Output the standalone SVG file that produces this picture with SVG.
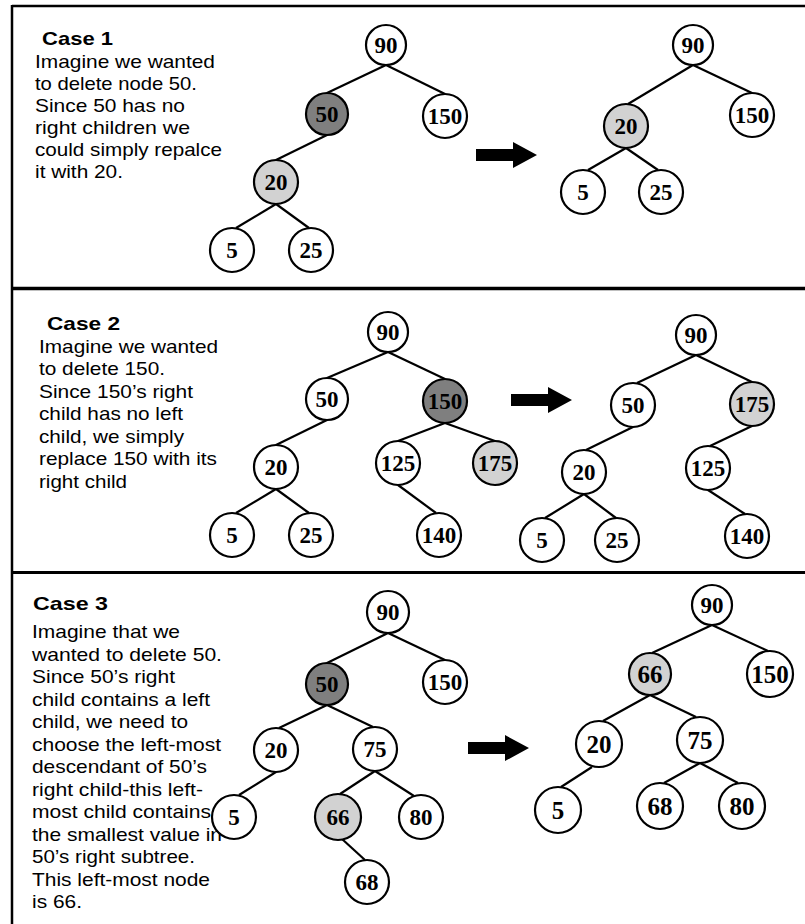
<svg xmlns="http://www.w3.org/2000/svg" width="805" height="924" viewBox="0 0 805 924">
<style>
.frame{stroke:#000;fill:none}
.edge{stroke:#000;stroke-width:2.2;fill:none}
.n circle{fill:#fff;stroke:#000;stroke-width:2.2}
.n.dark circle{fill:#7f7f7f}
.n.light circle{fill:#d2d2d2}
.n text{font-family:"Liberation Serif","Times New Roman",serif;font-weight:bold;font-size:23px;text-anchor:middle;fill:#000}
.big text{font-size:25px}
.h{font-family:"Liberation Sans",Arial,sans-serif;font-weight:bold;font-size:19px;fill:#000}
.b{font-family:"Liberation Sans",Arial,sans-serif;font-size:18.5px;fill:#000}
</style>
<defs>
<path id="arrow" d="M0,-6 H37 V-13 L61,0 L37,13 V6 H0 Z" fill="#000"/>
</defs>
<rect width="805" height="924" fill="#fff"/>
<g id="frame" class="frame">
<line x1="12" y1="6" x2="805" y2="6" stroke-width="2.5"/>
<line x1="12" y1="5" x2="12" y2="924" stroke-width="2.5"/>
<line x1="12" y1="288.5" x2="805" y2="288.5" stroke-width="3.5"/>
<line x1="12" y1="572.5" x2="805" y2="572.5" stroke-width="3"/>
</g>
<g id="texts">
<text class="h" x="42" y="45" textLength="71" lengthAdjust="spacingAndGlyphs">Case 1</text>
<text class="b" x="35" y="68" textLength="180" lengthAdjust="spacingAndGlyphs">Imagine we wanted</text>
<text class="b" x="35" y="90" textLength="162" lengthAdjust="spacingAndGlyphs">to delete node 50.</text>
<text class="b" x="35" y="112" textLength="150" lengthAdjust="spacingAndGlyphs">Since 50 has no</text>
<text class="b" x="35" y="134" textLength="155" lengthAdjust="spacingAndGlyphs">right children we</text>
<text class="b" x="35" y="156" textLength="187" lengthAdjust="spacingAndGlyphs">could simply repalce</text>
<text class="b" x="35" y="178" textLength="88" lengthAdjust="spacingAndGlyphs">it with 20.</text>

<text class="h" x="47" y="330" textLength="73" lengthAdjust="spacingAndGlyphs">Case 2</text>
<text class="b" x="39" y="353" textLength="179" lengthAdjust="spacingAndGlyphs">Imagine we wanted</text>
<text class="b" x="39" y="375" textLength="126" lengthAdjust="spacingAndGlyphs">to delete 150.</text>
<text class="b" x="39" y="398" textLength="154" lengthAdjust="spacingAndGlyphs">Since 150’s right</text>
<text class="b" x="39" y="420" textLength="144" lengthAdjust="spacingAndGlyphs">child has no left</text>
<text class="b" x="39" y="443" textLength="145" lengthAdjust="spacingAndGlyphs">child, we simply</text>
<text class="b" x="39" y="465" textLength="178" lengthAdjust="spacingAndGlyphs">replace 150 with its</text>
<text class="b" x="39" y="488" textLength="88" lengthAdjust="spacingAndGlyphs">right child</text>

<text class="h" x="33" y="610" textLength="75" lengthAdjust="spacingAndGlyphs">Case 3</text>
<text class="b" x="32" y="638" textLength="148" lengthAdjust="spacingAndGlyphs">Imagine that we</text>
<text class="b" x="32" y="660.5" textLength="190" lengthAdjust="spacingAndGlyphs">wanted to delete 50.</text>
<text class="b" x="32" y="683" textLength="143" lengthAdjust="spacingAndGlyphs">Since 50’s right</text>
<text class="b" x="32" y="705.5" textLength="178" lengthAdjust="spacingAndGlyphs">child contains a left</text>
<text class="b" x="32" y="728" textLength="156" lengthAdjust="spacingAndGlyphs">child, we need to</text>
<text class="b" x="32" y="750.5" textLength="189" lengthAdjust="spacingAndGlyphs">choose the left-most</text>
<text class="b" x="32" y="773" textLength="175" lengthAdjust="spacingAndGlyphs">descendant of 50’s</text>
<text class="b" x="32" y="795.5" textLength="171" lengthAdjust="spacingAndGlyphs">right child-this left-</text>
<text class="b" x="32" y="818" textLength="179" lengthAdjust="spacingAndGlyphs">most child contains</text>
<text class="b" x="32" y="840.5" textLength="190" lengthAdjust="spacingAndGlyphs">the smallest value in</text>
<text class="b" x="32" y="863" textLength="163" lengthAdjust="spacingAndGlyphs">50’s right subtree.</text>
<text class="b" x="32" y="885.5" textLength="178" lengthAdjust="spacingAndGlyphs">This left-most node</text>
<text class="b" x="32" y="908" textLength="50" lengthAdjust="spacingAndGlyphs">is 66.</text>
</g>
<g id="arrows">
<use href="#arrow" x="476" y="155"/>
<use href="#arrow" x="511" y="400"/>
<use href="#arrow" x="468" y="748"/>
</g>
<g id="connectors" class="edge">
<line x1="386" y1="65" x2="327" y2="93"/>
<line x1="386" y1="65" x2="445" y2="94"/>
<line x1="327" y1="135" x2="276" y2="160"/>
<line x1="276" y1="204" x2="236" y2="228"/>
<line x1="276" y1="204" x2="309" y2="228"/>
<line x1="693" y1="65" x2="628" y2="104"/>
<line x1="693" y1="65" x2="752" y2="93"/>
<line x1="626" y1="148" x2="588" y2="170"/>
<line x1="626" y1="148" x2="658" y2="170"/>
<line x1="388" y1="352" x2="327" y2="378"/>
<line x1="388" y1="352" x2="445" y2="379"/>
<line x1="327" y1="420" x2="276" y2="445"/>
<line x1="445" y1="423" x2="398" y2="441"/>
<line x1="445" y1="423" x2="495" y2="441"/>
<line x1="276" y1="489" x2="236" y2="513"/>
<line x1="276" y1="489" x2="309" y2="513"/>
<line x1="398" y1="485" x2="436" y2="513"/>
<line x1="696" y1="355" x2="637" y2="383"/>
<line x1="696" y1="355" x2="752" y2="382"/>
<line x1="633" y1="427" x2="586" y2="450"/>
<line x1="752" y1="426" x2="710" y2="446"/>
<line x1="584" y1="494" x2="545" y2="518"/>
<line x1="584" y1="494" x2="616" y2="518"/>
<line x1="708" y1="490" x2="745" y2="514"/>
<line x1="388" y1="633" x2="327" y2="663"/>
<line x1="388" y1="633" x2="445" y2="660"/>
<line x1="327" y1="705" x2="279" y2="728"/>
<line x1="327" y1="705" x2="373" y2="727"/>
<line x1="276" y1="772" x2="239" y2="795"/>
<line x1="375" y1="771" x2="340" y2="794"/>
<line x1="375" y1="771" x2="414" y2="796"/>
<line x1="342" y1="839" x2="365" y2="860"/>
<line x1="712" y1="625" x2="652" y2="653"/>
<line x1="712" y1="625" x2="768" y2="651"/>
<line x1="650" y1="695" x2="603" y2="721"/>
<line x1="650" y1="695" x2="696" y2="717"/>
<line x1="592" y1="767" x2="561" y2="787"/>
<line x1="700" y1="763" x2="664" y2="783"/>
<line x1="700" y1="763" x2="738" y2="783"/>
</g>
<g id="p1a_90" class="n"><circle cx="386" cy="45" r="20"/><text x="386" y="53">90</text></g>
<g id="p1a_50" class="n dark"><circle cx="327" cy="114" r="21"/><text x="327" y="122">50</text></g>
<g id="p1a_150" class="n"><circle cx="445" cy="116" r="22"/><text x="445" y="124">150</text></g>
<g id="p1a_20" class="n light"><circle cx="276" cy="182" r="22"/><text x="276" y="190">20</text></g>
<g id="p1a_5" class="n"><circle cx="232" cy="250" r="22"/><text x="232" y="258">5</text></g>
<g id="p1a_25" class="n"><circle cx="311" cy="250" r="22"/><text x="311" y="258">25</text></g>

<g id="p1b_90" class="n"><circle cx="693" cy="45" r="20"/><text x="693" y="53">90</text></g>
<g id="p1b_20" class="n light"><circle cx="626" cy="126" r="22"/><text x="626" y="134">20</text></g>
<g id="p1b_150" class="n"><circle cx="752" cy="115" r="22"/><text x="752" y="123">150</text></g>
<g id="p1b_5" class="n"><circle cx="583" cy="192" r="22"/><text x="583" y="200">5</text></g>
<g id="p1b_25" class="n"><circle cx="661" cy="192" r="22"/><text x="661" y="200">25</text></g>

<g id="p2a_90" class="n"><circle cx="388" cy="332" r="20"/><text x="388" y="340">90</text></g>
<g id="p2a_50" class="n"><circle cx="327" cy="399" r="21"/><text x="327" y="407">50</text></g>
<g id="p2a_150" class="n dark"><circle cx="445" cy="401" r="22"/><text x="445" y="409">150</text></g>
<g id="p2a_20" class="n"><circle cx="276" cy="467" r="22"/><text x="276" y="475">20</text></g>
<g id="p2a_125" class="n"><circle cx="398" cy="463" r="22"/><text x="398" y="471">125</text></g>
<g id="p2a_175" class="n light"><circle cx="495" cy="463" r="22"/><text x="495" y="471">175</text></g>
<g id="p2a_5" class="n"><circle cx="232" cy="535" r="22"/><text x="232" y="543">5</text></g>
<g id="p2a_25" class="n"><circle cx="311" cy="535" r="22"/><text x="311" y="543">25</text></g>
<g id="p2a_140" class="n"><circle cx="439" cy="535" r="22"/><text x="439" y="543">140</text></g>

<g id="p2b_90" class="n"><circle cx="696" cy="335" r="20"/><text x="696" y="343">90</text></g>
<g id="p2b_50" class="n"><circle cx="633" cy="405" r="22"/><text x="633" y="413">50</text></g>
<g id="p2b_175" class="n light"><circle cx="752" cy="404" r="22"/><text x="752" y="412">175</text></g>
<g id="p2b_20" class="n"><circle cx="584" cy="472" r="22"/><text x="584" y="480">20</text></g>
<g id="p2b_125" class="n"><circle cx="708" cy="468" r="22"/><text x="708" y="476">125</text></g>
<g id="p2b_5" class="n"><circle cx="542" cy="540" r="22"/><text x="542" y="548">5</text></g>
<g id="p2b_25" class="n"><circle cx="617" cy="540" r="22"/><text x="617" y="548">25</text></g>
<g id="p2b_140" class="n"><circle cx="747" cy="536" r="22"/><text x="747" y="544">140</text></g>

<g id="p3a_90" class="n"><circle cx="388" cy="612" r="21"/><text x="388" y="620">90</text></g>
<g id="p3a_50" class="n dark"><circle cx="327" cy="684" r="21"/><text x="327" y="692">50</text></g>
<g id="p3a_150" class="n"><circle cx="445" cy="682" r="22"/><text x="445" y="690">150</text></g>
<g id="p3a_20" class="n"><circle cx="276" cy="750" r="22"/><text x="276" y="758">20</text></g>
<g id="p3a_75" class="n"><circle cx="375" cy="749" r="22"/><text x="375" y="757">75</text></g>
<g id="p3a_5" class="n"><circle cx="234" cy="817" r="22"/><text x="234" y="825">5</text></g>
<g id="p3a_66" class="n light"><circle cx="338" cy="817" r="23"/><text x="338" y="825">66</text></g>
<g id="p3a_80" class="n"><circle cx="421" cy="817" r="22"/><text x="421" y="825">80</text></g>
<g id="p3a_68" class="n"><circle cx="367" cy="882" r="22"/><text x="367" y="890">68</text></g>

<g id="p3b_90" class="n"><circle cx="712" cy="605" r="20"/><text x="712" y="613">90</text></g>
<g id="p3b_66" class="n light big"><circle cx="650" cy="674" r="21"/><text x="650" y="682.5">66</text></g>
<g id="p3b_150" class="n big"><circle cx="770" cy="674" r="23"/><text x="770" y="682.5">150</text></g>
<g id="p3b_20" class="n big"><circle cx="599" cy="744" r="23"/><text x="599" y="752.5">20</text></g>
<g id="p3b_75" class="n big"><circle cx="700" cy="740" r="23"/><text x="700" y="748.5">75</text></g>
<g id="p3b_5" class="n big"><circle cx="558" cy="810" r="23"/><text x="558" y="818.5">5</text></g>
<g id="p3b_68" class="n big"><circle cx="660" cy="806" r="23"/><text x="660" y="814.5">68</text></g>
<g id="p3b_80" class="n big"><circle cx="742" cy="806" r="23"/><text x="742" y="814.5">80</text></g>
</svg>
